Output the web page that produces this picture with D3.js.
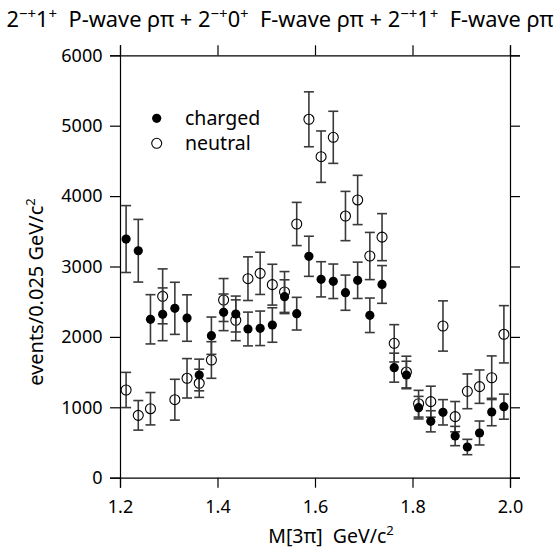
<!DOCTYPE html>
<html><head><meta charset="utf-8">
<script src="https://cdn.jsdelivr.net/npm/d3@7"></script>
<style>html,body{margin:0;padding:0;background:#fff;}svg{display:block;}</style>
</head><body>
<svg id="c" width="559" height="551"></svg>
<script>
const mass = [1.2125,1.2375,1.2625,1.2875,1.3125,1.3375,1.3625,1.3875,1.4125,1.4375,1.4625,1.4875,1.5125,1.5375,1.5625,1.5875,
              1.6125,1.6375,1.6625,1.6875,1.7125,1.7375,1.7625,1.7875,1.8125,1.8375,1.8625,1.8875,1.9125,1.9375,1.9625,1.9875];
const charged    = [3390,3224,2250,2321,2406,2268,1459,2017,2349,2325,2112,2122,2169,2571,2330,3145,
                    2818,2790,2628,2804,2307,2745,1563,1459,995,801,929,592,436,635,933,1009];
const chargedErr = [475,445,350,375,370,330,225,265,260,255,240,245,245,240,232,285,
                    250,245,250,258,245,268,206,195,160,150,180,137,109,170,195,178];
const neutral    = [1246,886,980,2576,1108,1412,1341,1672,2524,2236,2827,2903,2742,2638,3604,5091,
                    4560,4835,3717,3945,3149,3417,1909,1501,1051,1080,2155,867,1227,1293,1420,2037];
const neutralErr = [250,210,230,390,290,280,200,260,305,290,310,300,290,290,307,390,
                    365,370,350,350,335,334,265,225,190,220,357,215,247,237,310,407];
const xTicks = [1.2,1.4,1.6,1.8,2.0];
const yTicks = [0,1000,2000,3000,4000,5000,6000];
const seriesNames = ["charged","neutral"];
const titleParts = [["2",0],["\u2212+",1],["1",0],["+",1],["\u00a0 P-wave \u03c1\u03c0 + 2",0],["\u2212+",1],["0",0],["+",1],
                    ["\u00a0 F-wave \u03c1\u03c0 + 2",0],["\u2212+",1],["1",0],["+",1],["\u00a0 F-wave \u03c1\u03c0",0]];

const FONT = "'Noto Sans', 'Open Sans', sans-serif";
const svg = d3.select("#c");
const L=120,R=510,T=55.3,B=477.7;
const x = d3.scaleLinear().domain([1.2,2.0]).range([L,R]);
const y = d3.scaleLinear().domain([0,6000]).range([B,T]);

const fmtX = d3.format(".1f");
function styleAxis(g, labels){
  g.selectAll(".domain").attr("stroke","#000").attr("stroke-width",1.2);
  g.selectAll(".tick line").attr("stroke","#000").attr("stroke-width",1.2);
  g.selectAll("text").attr("font-family",FONT).attr("font-size",labels?"18px":"0px").attr("fill","#000");
}
svg.append("g").attr("transform",`translate(0,${B})`)
  .call(d3.axisBottom(x).tickValues(xTicks).tickFormat(fmtX).tickSizeOuter(0).tickSize(10).tickPadding(13))
  .call(g=>styleAxis(g,true));
svg.append("g").attr("transform",`translate(0,${T})`)
  .call(d3.axisTop(x).tickValues(xTicks).tickFormat("").tickSizeOuter(0).tickSize(10))
  .call(g=>styleAxis(g,false));
svg.append("g").attr("transform",`translate(${L},0)`)
  .call(d3.axisLeft(y).tickValues(yTicks).tickFormat(d3.format("d")).tickSizeOuter(0).tickSize(10).tickPadding(7.5))
  .call(g=>styleAxis(g,true));
svg.append("g").attr("transform",`translate(${R},0)`)
  .call(d3.axisRight(y).tickValues(yTicks).tickFormat("").tickSizeOuter(0).tickSize(10))
  .call(g=>styleAxis(g,false));

function drawSeries(vals, errs, filled){
  const g = svg.append("g");
  const d = mass.map((m,i)=>({m, v:vals[i], e:errs[i]}));
  const eb = g.selectAll(".eb").data(d).join("g").attr("stroke","#3a3a3a").attr("stroke-width",1.6);
  eb.append("line").attr("x1",p=>x(p.m)).attr("x2",p=>x(p.m)).attr("y1",p=>y(p.v-p.e)).attr("y2",p=>y(p.v+p.e));
  eb.append("line").attr("x1",p=>x(p.m)-5).attr("x2",p=>x(p.m)+5).attr("y1",p=>y(p.v-p.e)).attr("y2",p=>y(p.v-p.e));
  eb.append("line").attr("x1",p=>x(p.m)-5).attr("x2",p=>x(p.m)+5).attr("y1",p=>y(p.v+p.e)).attr("y2",p=>y(p.v+p.e));
  g.selectAll("circle").data(d).join("circle")
    .attr("cx",p=>x(p.m)).attr("cy",p=>y(p.v))
    .attr("r",filled?4.6:5)
    .attr("fill",filled?"#000":"none").attr("stroke","#000").attr("stroke-width",filled?0:1.1);
}
drawSeries(neutral, neutralErr, false);
drawSeries(charged, chargedErr, true);

const leg = svg.append("g");
[[true,118.3,125],[false,143.3,150]].forEach(([f,cy,by],i)=>{
  leg.append("circle").attr("cx",156.7).attr("cy",cy).attr("r",f?4.6:5)
    .attr("fill",f?"#000":"none").attr("stroke","#000").attr("stroke-width",f?0:1.1);
  leg.append("text").attr("x",185).attr("y",by).attr("font-family",FONT).attr("font-size","19.5px").text(seriesNames[i]);
});

const t = svg.append("text").attr("x",280).attr("y",27).attr("text-anchor","middle")
  .attr("font-family",FONT).attr("font-size","21.8px").attr("fill","#000");
let prevSup = 0;
titleParts.forEach(([s,isSup])=>{
  const ts = t.append("tspan").text(s);
  const dy = (isSup?-8:0) - (prevSup?-8:0);
  if (dy) ts.attr("dy",dy);
  if (isSup) ts.attr("font-size","15px");
  prevSup = isSup;
});

const xl = svg.append("text").attr("x",331).attr("y",543).attr("text-anchor","middle")
  .attr("font-family",FONT).attr("font-size","19.5px");
xl.append("tspan").text("M[3\u03c0]\u00a0 GeV/c");
xl.append("tspan").attr("dy",-8).attr("font-size","13px").text("2");

const yl = svg.append("text").attr("transform","translate(43,292) rotate(-90)").attr("text-anchor","middle")
  .attr("font-family",FONT).attr("font-size","20px");
yl.append("tspan").text("events/0.025 GeV/c");
yl.append("tspan").attr("dy",-8).attr("font-size","13px").text("2");
</script>
</body></html>
